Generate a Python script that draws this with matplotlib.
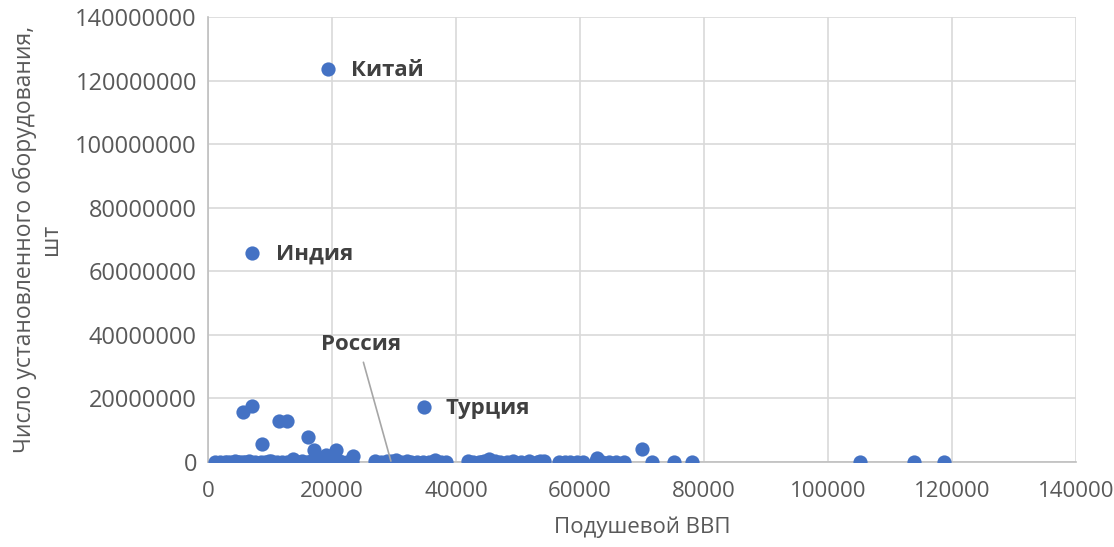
import matplotlib
matplotlib.use("Agg")
import matplotlib.pyplot as plt
from matplotlib.ticker import FuncFormatter

# Labelled countries
labels = ["Китай", "Индия", "Турция", "Россия"]
label_x = [19400, 7100, 34800, 29500]
label_y = [123600000, 65700000, 17300000, 300000]

# Other countries (GDP per capita, installed equipment count)
other_x = [5600, 7100, 11500, 12700, 8700, 16100, 17100, 19000, 20600, 23400, 70000, 62800,
           1100, 1900, 2700, 3500, 4400, 5200, 6000, 6600, 7600, 8500, 9200, 10200, 11100,
           11900, 12700, 13700, 14400, 15200, 16000, 16600, 17600, 18400, 19000, 19800,
           20800, 21600, 22400, 23200, 26900, 27900, 28900, 30300, 31100, 32100, 32700,
           33700, 34700, 35600, 36600, 37600, 38400, 41900, 42700, 43700, 44500, 45300,
           46300, 47100, 48200, 49200, 50500, 51800, 53100, 54200, 56600, 57600, 58400,
           59500, 60500, 62600, 63500, 64700, 65800, 67100, 71600, 75200, 78100, 105200,
           113900, 118700, 3000, 4800, 5700, 9800, 13200, 14800, 21200, 36200, 44000, 53500]
other_y = [15700000, 17600000, 12900000, 12900000, 5700000, 7900000, 3800000, 2200000,
           3800000, 1900000, 4100000, 1200000,
           0, 0, 100000, 0, 200000, 0, 100000, 300000, 0, 100000, 0, 200000, 0,
           100000, 0, 1000000, 0, 300000, 0, 200000, 900000, 0, 100000, 0,
           200000, 0, 100000, 0, 300000, 0, 200000, 500000, 0, 200000, 0,
           100000, 0, 100000, 600000, 0, 100000, 400000, 100000, 0, 300000, 1000000,
           200000, 0, 100000, 400000, 100000, 300000, 0, 200000, 0, 0, 100000,
           0, 0, 300000, 0, 100000, 0, 0, 0, 0, 0, 0,
           0, 0, 0, 100000, 0, 300000, 0, 0, 200000, 0, 0, 300000]

x_ticks = [0, 20000, 40000, 60000, 80000, 100000, 120000, 140000]
y_ticks = [0, 20000000, 40000000, 60000000, 80000000, 100000000, 120000000, 140000000]

plt.rcParams['font.family'] = ['Open Sans', 'DejaVu Sans']

fig = plt.figure(figsize=(11.14, 5.47), dpi=100)
ax = fig.add_axes([208/1114, 1-462/547, (1076-208)/1114, (462-17)/547])

blue = "#4472C4"
ax.scatter(other_x, other_y, s=105, color=blue, zorder=3, linewidths=0)
ax.scatter(label_x, label_y, s=105, color=blue, zorder=3, linewidths=0)

ax.set_xlim(0, 140000)
ax.set_ylim(0, 140000000)
ax.set_xticks(x_ticks)
ax.set_yticks(y_ticks)
ax.xaxis.set_major_formatter(FuncFormatter(lambda v, p: f"{int(v)}"))
ax.yaxis.set_major_formatter(FuncFormatter(lambda v, p: f"{int(v)}"))
ax.tick_params(axis='y', length=0, labelsize=17, colors="#595959", pad=8)
ax.tick_params(axis='x', length=0, labelsize=16, colors="#595959", pad=14)
ax.grid(True, color="#d9d9d9", linewidth=1.2, zorder=0)
ax.set_axisbelow(True)
for s in ["top", "right"]:
    ax.spines[s].set_visible(False)
for s in ["left", "bottom"]:
    ax.spines[s].set_color("#bfbfbf")
    ax.spines[s].set_linewidth(1.2)

ax.set_xlabel("Подушевой ВВП", fontsize=16, color="#595959", labelpad=10)
ax.set_ylabel("Число установленного оборудования,\nшт", fontsize=16.5, color="#595959",
              labelpad=9, linespacing=1.1)

lc = "#404040"
# China
ax.annotate(labels[0], (label_x[0], label_y[0]), xytext=(16, -1), textcoords="offset points",
            fontsize=16, fontweight="bold", color=lc, va="center")
# India
ax.annotate(labels[1], (label_x[1], label_y[1]), xytext=(17, -1), textcoords="offset points",
            fontsize=16, fontweight="bold", color=lc, va="center")
# Turkey
ax.annotate(labels[2], (label_x[2], label_y[2]), xytext=(16, -1), textcoords="offset points",
            fontsize=16, fontweight="bold", color=lc, va="center")
# Russia with leader line
ax.annotate(labels[3], (label_x[3], label_y[3]), xytext=(-50, 76), textcoords="offset points",
            fontsize=16, fontweight="bold", color=lc, va="bottom", ha="left",
            arrowprops=dict(arrowstyle="-", color="#a6a6a6", lw=1.2,
                            relpos=(0.5, 0.0), shrinkA=3, shrinkB=0))

fig.savefig("out.png", dpi=100)
